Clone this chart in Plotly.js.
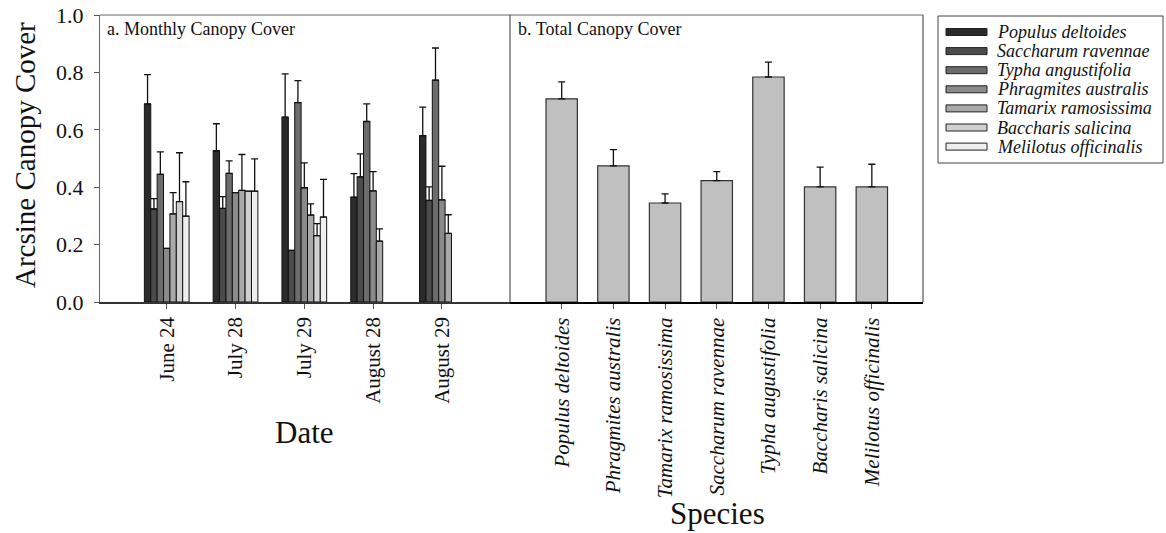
<!DOCTYPE html>
<html>
<head>
<meta charset="utf-8">
<script src="https://cdn.plot.ly/plotly-3.0.1.min.js"></script>
<style>html,body{margin:0;padding:0;background:#fff;}#chart{width:1166px;height:533px;}</style>
</head>
<body>
<div id="chart"></div>
<script>
// ---------- data ----------
const dates = ['June 24', 'July 28', 'July 29', 'August 28', 'August 29'];
const seriesNames = ['Populus deltoides', 'Saccharum ravennae', 'Typha angustifolia', 'Phragmites australis', 'Tamarix ramosissima', 'Baccharis salicina', 'Melilotus officinalis'];

const populusMean    = [0.690, 0.527, 0.644, 0.365, 0.580];
const populusErr     = [0.102, 0.094, 0.151, 0.082, 0.099];
const saccharumMean  = [0.324, 0.326, 0.180, 0.436, 0.354];
const saccharumErr   = [0.036, 0.041, 0.000, 0.080, 0.047];
const typhaMean      = [0.445, 0.448, 0.695, 0.629, 0.773];
const typhaErr       = [0.078, 0.044, 0.076, 0.061, 0.112];
const phragmitesMean = [0.187, 0.381, 0.398, 0.387, 0.356];
const phragmitesErr  = [0.000, 0.000, 0.087, 0.067, 0.117];
const tamarixMean    = [0.307, 0.389, 0.303, 0.212, 0.239];
const tamarixErr     = [0.074, 0.125, 0.039, 0.043, 0.065];
const baccharisMean  = [0.350, 0.386, 0.231, null, null];
const baccharisErr   = [0.170, 0.000, 0.042, null, null];
const melilotusMean  = [0.299, 0.386, 0.296, null, null];
const melilotusErr   = [0.120, 0.113, 0.131, null, null];

const totalSpecies = ['Populus deltoides', 'Phragmites australis', 'Tamarix ramosissima', 'Saccharum ravennae', 'Typha augustifolia', 'Baccharis salicina', 'Melilotus officinalis'];
const totalMean = [0.708, 0.474, 0.345, 0.423, 0.784, 0.401, 0.401];
const totalErr  = [0.059, 0.057, 0.032, 0.031, 0.052, 0.069, 0.079];

const yTicks = [0.0, 0.2, 0.4, 0.6, 0.8, 1.0];
const yTickText = ['0.0', '0.2', '0.4', '0.6', '0.8', '1.0'];

// ---------- styles ----------
const seriesColors = ['#2b2b2b', '#4b4b4b', '#6c6c6c', '#8a8a8a', '#a9a9a9', '#d0d0d0', '#efefef'];
const totalColor = '#c0c0c0';
const FONT = 'Liberation Serif, Times New Roman, serif';

const means = [populusMean, saccharumMean, typhaMean, phragmitesMean, tamarixMean, baccharisMean, melilotusMean];
const errs = [populusErr, saccharumErr, typhaErr, phragmitesErr, tamarixErr, baccharisErr, melilotusErr];

const traces = [];
seriesNames.forEach((name, i) => {
  traces.push({
    type: 'bar', name: name, x: dates, y: means[i],
    xaxis: 'x', yaxis: 'y',
    marker: {color: seriesColors[i], line: {color: '#111', width: 1}},
    error_y: {type: 'data', symmetric: false, array: errs[i], arrayminus: errs[i].map(() => 0),
              color: '#111', thickness: 1.3, width: 3.5},
    showlegend: false
  });
});
traces.push({
  type: 'bar', name: 'Total', x: totalSpecies, y: totalMean,
  xaxis: 'x2', yaxis: 'y2', width: 0.607,
  marker: {color: totalColor, line: {color: '#333', width: 1.2}},
  error_y: {type: 'data', symmetric: false, array: totalErr, arrayminus: totalErr.map(() => 0),
            color: '#111', thickness: 1.3, width: 3.5},
  showlegend: false
});

// ---------- layout helpers (pixel -> paper) ----------
const L = 100, R = 923, T = 15, B = 302;
const px = v => (v - L) / (R - L);
const py = v => (B - v) / (B - T);
const split = px(510);

const shapes = [
  {type: 'line', xref: 'paper', yref: 'paper', x0: 0, x1: 1, y0: 1, y1: 1, line: {color: '#666', width: 1}},
  {type: 'line', xref: 'paper', yref: 'paper', x0: split, x1: split, y0: 0, y1: 1, line: {color: '#333', width: 1}},
  {type: 'line', xref: 'paper', yref: 'paper', x0: 1, x1: 1, y0: 0, y1: 1, line: {color: '#333', width: 1}},
  {type: 'rect', xref: 'paper', yref: 'paper', x0: px(938), x1: px(1163), y0: py(163), y1: py(16), line: {color: '#444', width: 1}, fillcolor: 'rgba(0,0,0,0)'}
];
const annotations = [
  {xref: 'paper', yref: 'paper', x: px(105), y: py(29), xanchor: 'left', yanchor: 'middle', showarrow: false,
   text: 'a. Monthly Canopy Cover', font: {family: FONT, size: 18, color: '#111'}},
  {xref: 'paper', yref: 'paper', x: px(516), y: py(29), xanchor: 'left', yanchor: 'middle', showarrow: false,
   text: 'b. Total Canopy Cover', font: {family: FONT, size: 18, color: '#111'}},
  {xref: 'paper', yref: 'paper', x: px(304), y: py(432), xanchor: 'center', yanchor: 'middle', showarrow: false,
   text: 'Date', font: {family: FONT, size: 31, color: '#111'}},
  {xref: 'paper', yref: 'paper', x: px(717), y: py(513), xanchor: 'center', yanchor: 'middle', showarrow: false,
   text: 'Species', font: {family: FONT, size: 31, color: '#111'}},
  {xref: 'paper', yref: 'paper', x: px(25), y: py(155), xanchor: 'center', yanchor: 'middle', showarrow: false,
   textangle: -90, text: 'Arcsine Canopy Cover', font: {family: FONT, size: 29, color: '#111'}}
];
seriesNames.forEach((name, i) => {
  const cy = 32 + i * 19.1;
  shapes.push({type: 'rect', xref: 'paper', yref: 'paper', x0: px(946), x1: px(987), y0: py(cy + 3.5), y1: py(cy - 3.5),
               fillcolor: seriesColors[i], line: {color: '#222', width: 1}});
  annotations.push({xref: 'paper', yref: 'paper', x: px(995), y: py(cy), xanchor: 'left', yanchor: 'middle', showarrow: false,
                    text: name, font: {family: FONT, size: 18, style: 'italic', color: '#111'}});
});

const layout = {
  width: 1166, height: 533,
  margin: {l: L, r: 1166 - R, t: T, b: 533 - B, pad: 0},
  paper_bgcolor: '#fff', plot_bgcolor: '#fff',
  barmode: 'group', bargap: 0.35, bargroupgap: 0,
  showlegend: false,
  font: {family: FONT, color: '#111'},
  xaxis: {
    domain: [0, split], type: 'category', range: [-0.97, 4.99],
    showline: true, linecolor: '#333', linewidth: 1.5, showgrid: false, zeroline: false,
    ticks: 'outside', ticklen: 5, tickcolor: '#555', tickwidth: 1,
    tickangle: -90, tickfont: {family: FONT, size: 21, color: '#111'}
  },
  yaxis: {
    domain: [0, 1], range: [0, 1.0], tickvals: yTicks, ticktext: yTickText,
    showline: true, linecolor: '#666', linewidth: 1, showgrid: false, zeroline: false,
    ticks: 'outside', ticklen: 5, tickcolor: '#555', tickwidth: 1, ticklabelstandoff: 6,
    tickfont: {family: FONT, size: 22, color: '#111'}
  },
  xaxis2: {
    domain: [split, 1], anchor: 'y2', type: 'category', range: [-1.0, 6.99],
    showline: true, linecolor: '#000', linewidth: 2.2, showgrid: false, zeroline: false,
    ticks: 'outside', ticklen: 5, tickcolor: '#555', tickwidth: 1,
    tickangle: -90, tickfont: {family: FONT, size: 21, style: 'italic', color: '#111'}
  },
  yaxis2: {
    domain: [0, 1], anchor: 'x2', range: [0, 1.0], showticklabels: false, ticks: '',
    showline: false, showgrid: false, zeroline: false
  },
  shapes: shapes,
  annotations: annotations
};

Plotly.newPlot('chart', traces, layout, {displayModeBar: false, staticPlot: true});
</script>
</body>
</html>
